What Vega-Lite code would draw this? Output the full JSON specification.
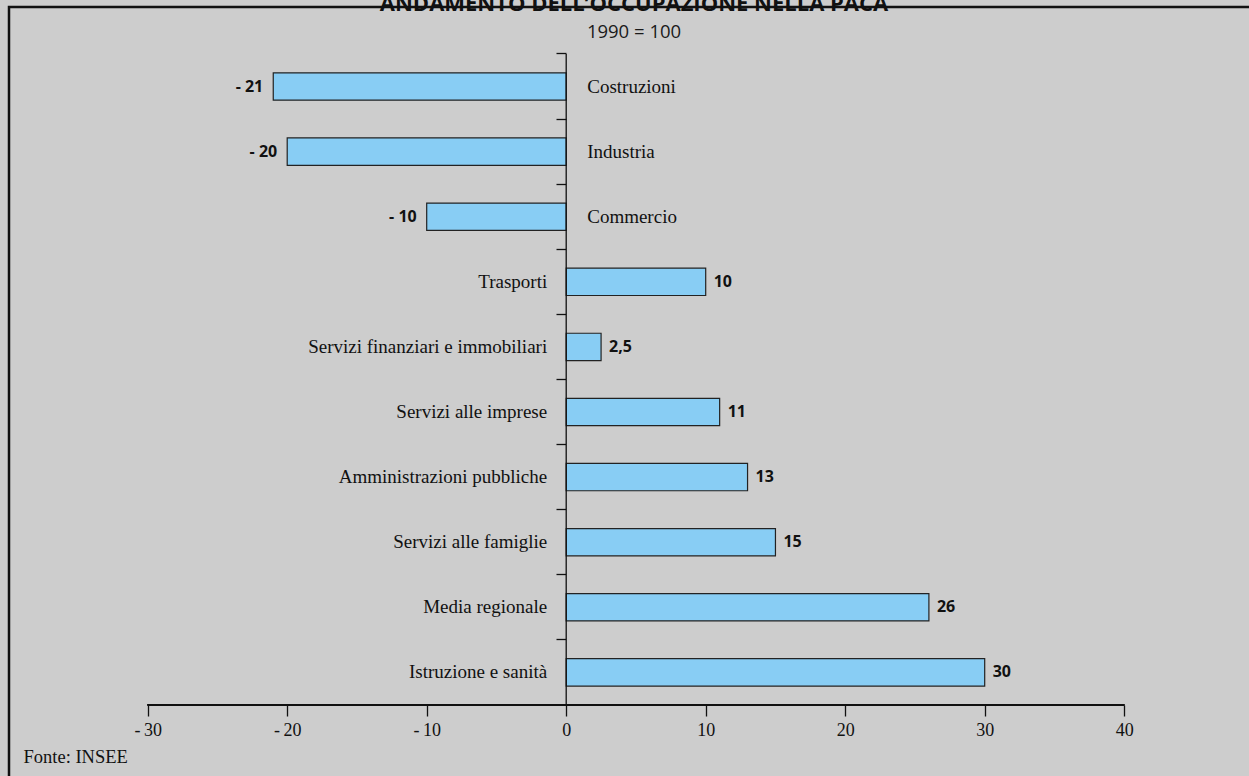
{
  "$schema": "https://vega.github.io/schema/vega-lite/v6.json",
  "width": 1250,
  "height": 780,
  "autosize": "none",
  "padding": {"left": 9, "top": 7, "right": 0, "bottom": 0},
  "background": "#cdcdcd",
  "config": {"view": {"stroke": "#111111", "strokeWidth": 2.5, "fill": "#cdcdcd"}},
  "title": {
    "text": "ANDAMENTO DELL’OCCUPAZIONE NELLA PACA",
    "subtitle": "1990 = 100",
    "anchor": "middle",
    "frame": "group",
    "font": "Open Sans",
    "fontSize": 22,
    "fontWeight": "bold",
    "color": "#111111",
    "subtitleFont": "Open Sans",
    "subtitleFontSize": 18.5,
    "subtitleFontWeight": "normal",
    "subtitleColor": "#1a1a1a",
    "subtitlePadding": 7,
    "offset": -35
  },
  "data": {
    "values": [
      {"settore": "Costruzioni", "valore": -21, "etichetta": "- 21"},
      {"settore": "Industria", "valore": -20, "etichetta": "- 20"},
      {"settore": "Commercio", "valore": -10, "etichetta": "- 10"},
      {"settore": "Trasporti", "valore": 10, "etichetta": "10"},
      {"settore": "Servizi finanziari e immobiliari", "valore": 2.5, "etichetta": "2,5"},
      {"settore": "Servizi alle imprese", "valore": 11, "etichetta": "11"},
      {"settore": "Amministrazioni pubbliche", "valore": 13, "etichetta": "13"},
      {"settore": "Servizi alle famiglie", "valore": 15, "etichetta": "15"},
      {"settore": "Media regionale", "valore": 26, "etichetta": "26"},
      {"settore": "Istruzione e sanità", "valore": 30, "etichetta": "30"}
    ]
  },
  "encoding": {
    "y": {
      "field": "settore",
      "type": "nominal",
      "sort": null,
      "scale": {"type": "band", "paddingInner": 0, "paddingOuter": 0.991, "align": 0.364},
      "axis": {
        "bandPosition": 0,
        "offset": -557,
        "domain": false,
        "labels": false,
        "ticks": true,
        "tickSize": 10,
        "tickColor": "#111111",
        "tickWidth": 1.3,
        "grid": false,
        "title": null
      }
    }
  },
  "layer": [
    {
      "mark": {"type": "bar", "height": {"band": 0.42}, "fill": "#88cdf4", "stroke": "#222222", "strokeWidth": 1.2},
      "encoding": {
        "x": {
          "field": "valore",
          "type": "quantitative",
          "scale": {"domain": [-39.943, 49.663], "nice": false, "zero": false},
          "axis": {
            "values": [-30, -20, -10, 0, 10, 20, 30, 40],
            "domain": false,
            "grid": false,
            "offset": -82,
            "tickSize": 11,
            "tickColor": "#111111",
            "tickWidth": 1.3,
            "labelFont": "Liberation Serif",
            "labelFontSize": 18,
            "labelColor": "#111111",
            "labelPadding": 5,
            "labelFlush": false,
            "labelOverlap": false,
            "labelExpr": "datum.value < 0 ? '-\u2009' + abs(datum.value) : datum.label",
            "title": "Fonte: INSEE",
            "titleFont": "Liberation Serif",
            "titleFontSize": 18.5,
            "titleFontWeight": "normal",
            "titleColor": "#111111",
            "titleAnchor": "start",
            "titleAlign": "left",
            "titleBaseline": "alphabetic",
            "titleX": 14,
            "titleY": 57
          }
        }
      }
    },
    {
      "mark": {"type": "bar", "height": {"band": 1}, "fill": null, "stroke": "#111111", "strokeWidth": 1.3},
      "encoding": {
        "x": {"datum": 0, "type": "quantitative"},
        "x2": {"datum": 0}
      }
    },
    {
      "mark": {"type": "rule", "stroke": "#111111", "strokeWidth": 1.3},
      "encoding": {
        "x": {"datum": -30, "type": "quantitative"},
        "x2": {"datum": 40},
        "y": {"datum": "Istruzione e sanità", "type": "nominal", "bandPosition": 1}
      }
    },
    {
      "transform": [{"filter": "datum.valore < 0"}],
      "mark": {"type": "text", "align": "left", "baseline": "middle", "dx": 21, "font": "Liberation Serif", "fontSize": 19, "color": "#111111"},
      "encoding": {
        "x": {"datum": 0, "type": "quantitative"},
        "text": {"field": "settore"}
      }
    },
    {
      "transform": [{"filter": "datum.valore > 0"}],
      "mark": {"type": "text", "align": "right", "baseline": "middle", "dx": -19, "font": "Liberation Serif", "fontSize": 19, "color": "#111111"},
      "encoding": {
        "x": {"datum": 0, "type": "quantitative"},
        "text": {"field": "settore"}
      }
    },
    {
      "transform": [{"filter": "datum.valore < 0"}],
      "mark": {"type": "text", "align": "right", "baseline": "middle", "dx": -10, "font": "Open Sans", "fontSize": 16, "fontWeight": "bold", "color": "#111111"},
      "encoding": {
        "x": {"field": "valore", "type": "quantitative"},
        "text": {"field": "etichetta"}
      }
    },
    {
      "transform": [{"filter": "datum.valore > 0"}],
      "mark": {"type": "text", "align": "left", "baseline": "middle", "dx": 8, "font": "Open Sans", "fontSize": 16, "fontWeight": "bold", "color": "#111111"},
      "encoding": {
        "x": {"field": "valore", "type": "quantitative"},
        "text": {"field": "etichetta"}
      }
    }
  ]
}
